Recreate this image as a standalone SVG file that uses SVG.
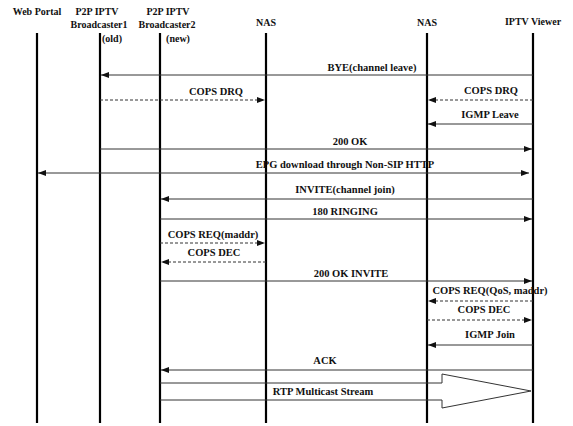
<svg xmlns="http://www.w3.org/2000/svg" width="573" height="426" viewBox="0 0 573 426">
<style>
text{font-family:"Liberation Serif","DejaVu Serif","Times New Roman",serif;font-weight:bold;fill:#111;text-anchor:middle}
.h{font-size:10px}
.m{font-size:10.5px}
.life{stroke:#000;stroke-width:2.2}
.msg{stroke:#333;stroke-width:1;fill:none}
.dash{stroke-dasharray:3,2}
</style>
<defs>
<marker id="ah" viewBox="0 0 8 6" refX="8" refY="3" markerWidth="8" markerHeight="6" orient="auto" markerUnits="userSpaceOnUse">
<path d="M0,0 L8,3 L0,6 z" fill="#111"/>
</marker>
</defs>
<rect width="573" height="426" fill="#fff"/>
<g id="webportal"><text class="h" x="37" y="15">Web Portal</text><line class="life" x1="37" y1="33" x2="37" y2="423"/></g>
<g id="broadcaster1"><text class="h" x="97" y="15">P2P IPTV</text><text class="h" x="99" y="28">Broadcaster1</text><text class="h" x="112" y="42">(old)</text><line class="life" x1="100" y1="33" x2="100" y2="423"/></g>
<g id="broadcaster2"><text class="h" x="168" y="15">P2P IPTV</text><text class="h" x="167" y="28">Broadcaster2</text><text class="h" x="178" y="42">(new)</text><line class="life" x1="160" y1="33" x2="160" y2="423"/></g>
<g id="nas1"><text class="h" x="266" y="26">NAS</text><line class="life" x1="266" y1="33" x2="266" y2="423"/></g>
<g id="nas2"><text class="h" x="427" y="26">NAS</text><line class="life" x1="427" y1="33" x2="427" y2="423"/></g>
<g id="viewer"><text class="h" x="533" y="25">IPTV Viewer</text><line class="life" x1="533" y1="33" x2="533" y2="423"/></g>
<g id="connectors">
<line class="msg" x1="533" y1="75" x2="101" y2="75" marker-end="url(#ah)"/>
<text class="m" x="372" y="71">BYE(channel leave)</text>
<line class="msg dash" x1="100" y1="100" x2="265" y2="100" marker-end="url(#ah)"/>
<text class="m" x="216" y="95">COPS DRQ</text>
<line class="msg dash" x1="533" y1="100" x2="428" y2="100" marker-end="url(#ah)"/>
<text class="m" x="491" y="94">COPS DRQ</text>
<line class="msg" x1="533" y1="124" x2="428" y2="124" marker-end="url(#ah)"/>
<text class="m" x="490" y="118">IGMP Leave</text>
<line class="msg" x1="100" y1="149" x2="532" y2="149" marker-end="url(#ah)"/>
<text class="m" x="350" y="145">200 OK</text>
<line class="msg" x1="529" y1="173" x2="38" y2="173" marker-end="url(#ah)"/>
<path d="M521,170 L529,173 L521,176 z" fill="#111"/>
<text class="m" x="345" y="168">EPG download through Non-SIP HTTP</text>
<line class="msg" x1="533" y1="199" x2="161" y2="199" marker-end="url(#ah)"/>
<text class="m" x="345" y="193">INVITE(channel join)</text>
<line class="msg" x1="160" y1="219" x2="532" y2="219" marker-end="url(#ah)"/>
<text class="m" x="345" y="215">180 RINGING</text>
<line class="msg dash" x1="160" y1="243" x2="265" y2="243" marker-end="url(#ah)"/>
<text class="m" x="213" y="238">COPS REQ(maddr)</text>
<line class="msg dash" x1="266" y1="262" x2="161" y2="262" marker-end="url(#ah)"/>
<text class="m" x="214" y="256">COPS DEC</text>
<line class="msg" x1="160" y1="281" x2="532" y2="281" marker-end="url(#ah)"/>
<text class="m" x="351" y="277">200 OK INVITE</text>
<line class="msg dash" x1="533" y1="301" x2="428" y2="301" marker-end="url(#ah)"/>
<text class="m" x="490" y="294">COPS REQ(QoS, maddr)</text>
<line class="msg dash" x1="427" y1="320" x2="532" y2="320" marker-end="url(#ah)"/>
<text class="m" x="484" y="313">COPS DEC</text>
<line class="msg" x1="533" y1="345" x2="428" y2="345" marker-end="url(#ah)"/>
<text class="m" x="490" y="338">IGMP Join</text>
<line class="msg" x1="533" y1="370" x2="161" y2="370" marker-end="url(#ah)"/>
<text class="m" x="325" y="364">ACK</text>
<path class="msg" d="M160,383 L442,383 L442,374 L531,391 L442,408 L442,400 L160,400" fill="#fff" stroke="#555"/>
<text class="m" x="323" y="395">RTP Multicast Stream</text>
</g>
</svg>
